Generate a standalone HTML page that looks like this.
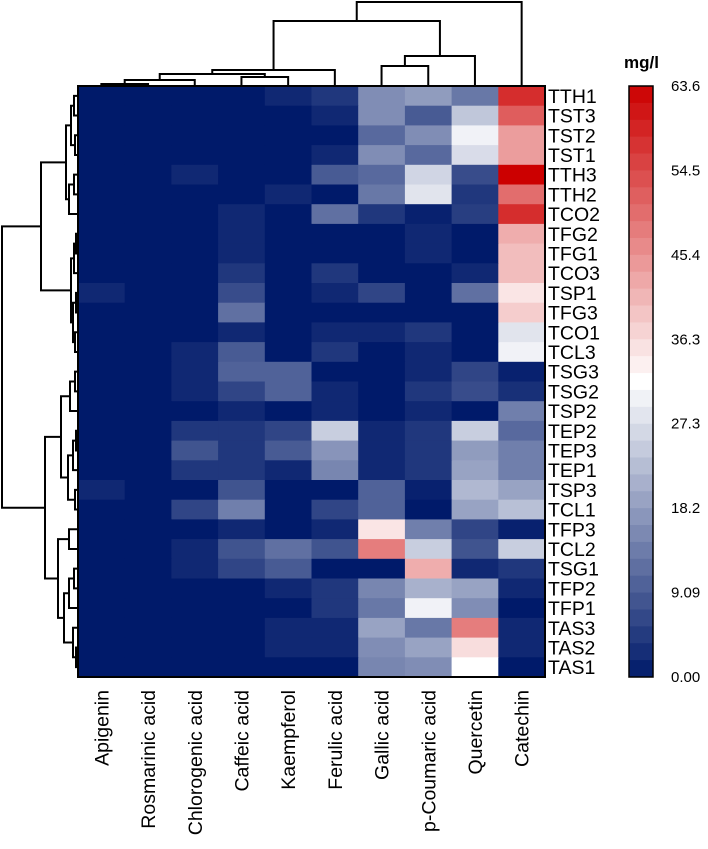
<!DOCTYPE html>
<html><head><meta charset="utf-8"><style>
body{margin:0;background:#fff;}
svg{display:block;font-family:"Liberation Sans",Arial,sans-serif;}
</style></head><body>
<svg id="chart" width="708" height="849" viewBox="0 0 708 849"></svg>
<script>
const colNames=["Apigenin","Rosmarinic acid","Chlorogenic acid","Caffeic acid","Kaempferol","Ferulic acid","Gallic acid","p-Coumaric acid","Quercetin","Catechin"];
const rowNames=["TTH1","TST3","TST2","TST1","TTH3","TTH2","TCO2","TFG2","TFG1","TCO3","TSP1","TFG3","TCO1","TCL3","TSG3","TSG2","TSP2","TEP2","TEP3","TEP1","TSP3","TCL1","TFP3","TCL2","TSG1","TFP2","TFP1","TAS3","TAS2","TAS1"];
const values=[
[0,0,0,0,2,4,16,18,13,58],
[0,0,0,0,0,2,16,9,24,52],
[0,0,0,0,0,0,11,16,30,44],
[0,0,0,0,0,2,16,11,27,44],
[0,0,2,0,0,9,11,26,7,63.6],
[0,0,0,0,2,0,13,28,4,50],
[0,0,0,2,0,12,4,1,5,58],
[0,0,0,2,0,0,0,2,0,42],
[0,0,0,2,0,0,0,2,0,40],
[0,0,0,4,0,4,0,0,2,40],
[2,0,0,7,0,2,6,0,12,35],
[0,0,0,12,0,0,0,0,0,38],
[0,0,0,2,0,2,2,4,0,28],
[0,0,2,9,0,4,0,2,0,30],
[0,0,2,10,10,0,0,2,6,1],
[0,0,2,6,10,2,0,4,7,3],
[0,0,0,2,0,2,0,2,0,14],
[0,0,4,4,6,25,2,4,25,11],
[0,0,8,4,9,17,2,4,18,14],
[0,0,4,4,2,15,2,4,19,14],
[2,0,0,8,0,0,10,1,22,19],
[0,0,6,14,0,6,10,0,19,23],
[0,0,0,2,0,2,35,14,6,1],
[0,0,2,8,12,8,48,25,8,25],
[0,0,2,6,9,0,0,42,2,4],
[0,0,0,0,2,4,15,21,19,2],
[0,0,0,0,0,4,13,30,16,0],
[0,0,0,0,2,2,19,13,48,2],
[0,0,0,0,2,2,16,19,36,2],
[0,0,0,0,0,0,15,16,31.8,0]];
const tickLabels=["63.6","54.5","45.4","36.3","27.3","18.2","9.09","0.00"];
const vmin=0, vmax=63.6;
const rowTree=[2,[41,[66,[71,[74,0,1],[75,2,3]],[69,[74,4,5],6]],[71,[74,[76,7,8],9],[73,[76,10,11],[75,12,13]]]],
 [45,[61,[70,[75,14,15],16],[68,[73,[76,17,18],19],[75,20,21]]],[58,[69,22,23],[64,[69,[74,24,25],26],[73,27,[76,28,29]]]]]];
const colTree=[2,[21,[70,[74,[80,[84,0,1],2],[77,3,4]],5],[56,[66,6,7],8]],9];

const NS="http://www.w3.org/2000/svg";
const svg=document.getElementById('chart');
const X0=78,X1=545,Y0=86,Y1=677;
const cw=(X1-X0)/colNames.length, rh=(Y1-Y0)/rowNames.length;
const xc=i=>X0+cw*(i+0.5), yc=i=>Y0+rh*(i+0.5);
function mk(t,a,p){const e=document.createElementNS(NS,t);for(const k in a)e.setAttribute(k,a[k]);(p||svg).appendChild(e);return e;}
function color(v){
 let t=(v-vmin)/(vmax-vmin);t=Math.max(0,Math.min(1,t));
 const lo=[0,26,106],mid=[255,255,255],hi=[204,0,0];let a,b,u;
 if(t<0.5){a=lo;b=mid;u=t*2;}else{a=mid;b=hi;u=(t-0.5)*2;}
 return `rgb(${a.map((c,k)=>Math.round(c+(b[k]-c)*u)).join(',')})`;
}
const gCells=mk('g',{});


values.forEach((row,r)=>row.forEach((v,c)=>{
 const e=mk('rect',{x:X0+c*cw,y:Y0+r*rh,width:cw+0.6,height:rh+0.6,fill:color(v)},gCells);
 
 
}));
const border=mk('rect',{x:X0,y:Y0,width:X1-X0,height:Y1-Y0,fill:'none',stroke:'#000','stroke-width':2});


rowNames.forEach((n,i)=>{
 const t=mk('text',{x:X1+3,y:yc(i)+7,'font-size':19.5});t.textContent=n;
 
 
});
colNames.forEach((n,i)=>{
 const t=mk('text',{transform:`translate(${xc(i)+7},690) rotate(-90)`,'text-anchor':'end','font-size':19.5});t.textContent=n;
 
 
});
const gD=mk('g',{stroke:'#000','stroke-width':2,fill:'none'});


function rowDen(n){
 if(typeof n==='number') return [X0,yc(n)];
 const a=rowDen(n[1]),b=rowDen(n[2]),h=n[0];
 mk('path',{d:`M${a[0]},${a[1]}H${h}V${b[1]}H${b[0]}`},gD);
 return [h,(a[1]+b[1])/2];
}
function colDen(n){
 if(typeof n==='number') return [xc(n),Y0];
 const a=colDen(n[1]),b=colDen(n[2]),h=n[0];
 mk('path',{d:`M${a[0]},${a[1]}V${h}H${b[0]}V${b[1]}`},gD);
 return [(a[0]+b[0])/2,h];
}
rowDen(rowTree);colDen(colTree);
const CB0=86,CB1=677,CX=629,CW=24,NB=35;
const gCB=mk('g',{});


for(let k=0;k<NB;k++){
 const v=vmax-(vmax-vmin)*(k+0.5)/NB, bh=(CB1-CB0)/NB;
 mk('rect',{x:CX,y:CB0+k*bh,width:CW,height:bh+0.5,fill:color(v)},gCB);
}
mk('rect',{x:CX,y:CB0,width:CW,height:CB1-CB0,fill:'none',stroke:'#000','stroke-width':1.5},gCB);
tickLabels.forEach((s,k)=>{
 const t=mk('text',{x:671,y:CB0+(CB1-CB0)*k/(tickLabels.length-1)+5,'font-size':15},gCB);t.textContent=s;
 
 
});
const ttl=mk('text',{x:624,y:68,'font-size':17,'font-weight':'bold'});ttl.textContent='mg/l';


</script>
</body></html>
